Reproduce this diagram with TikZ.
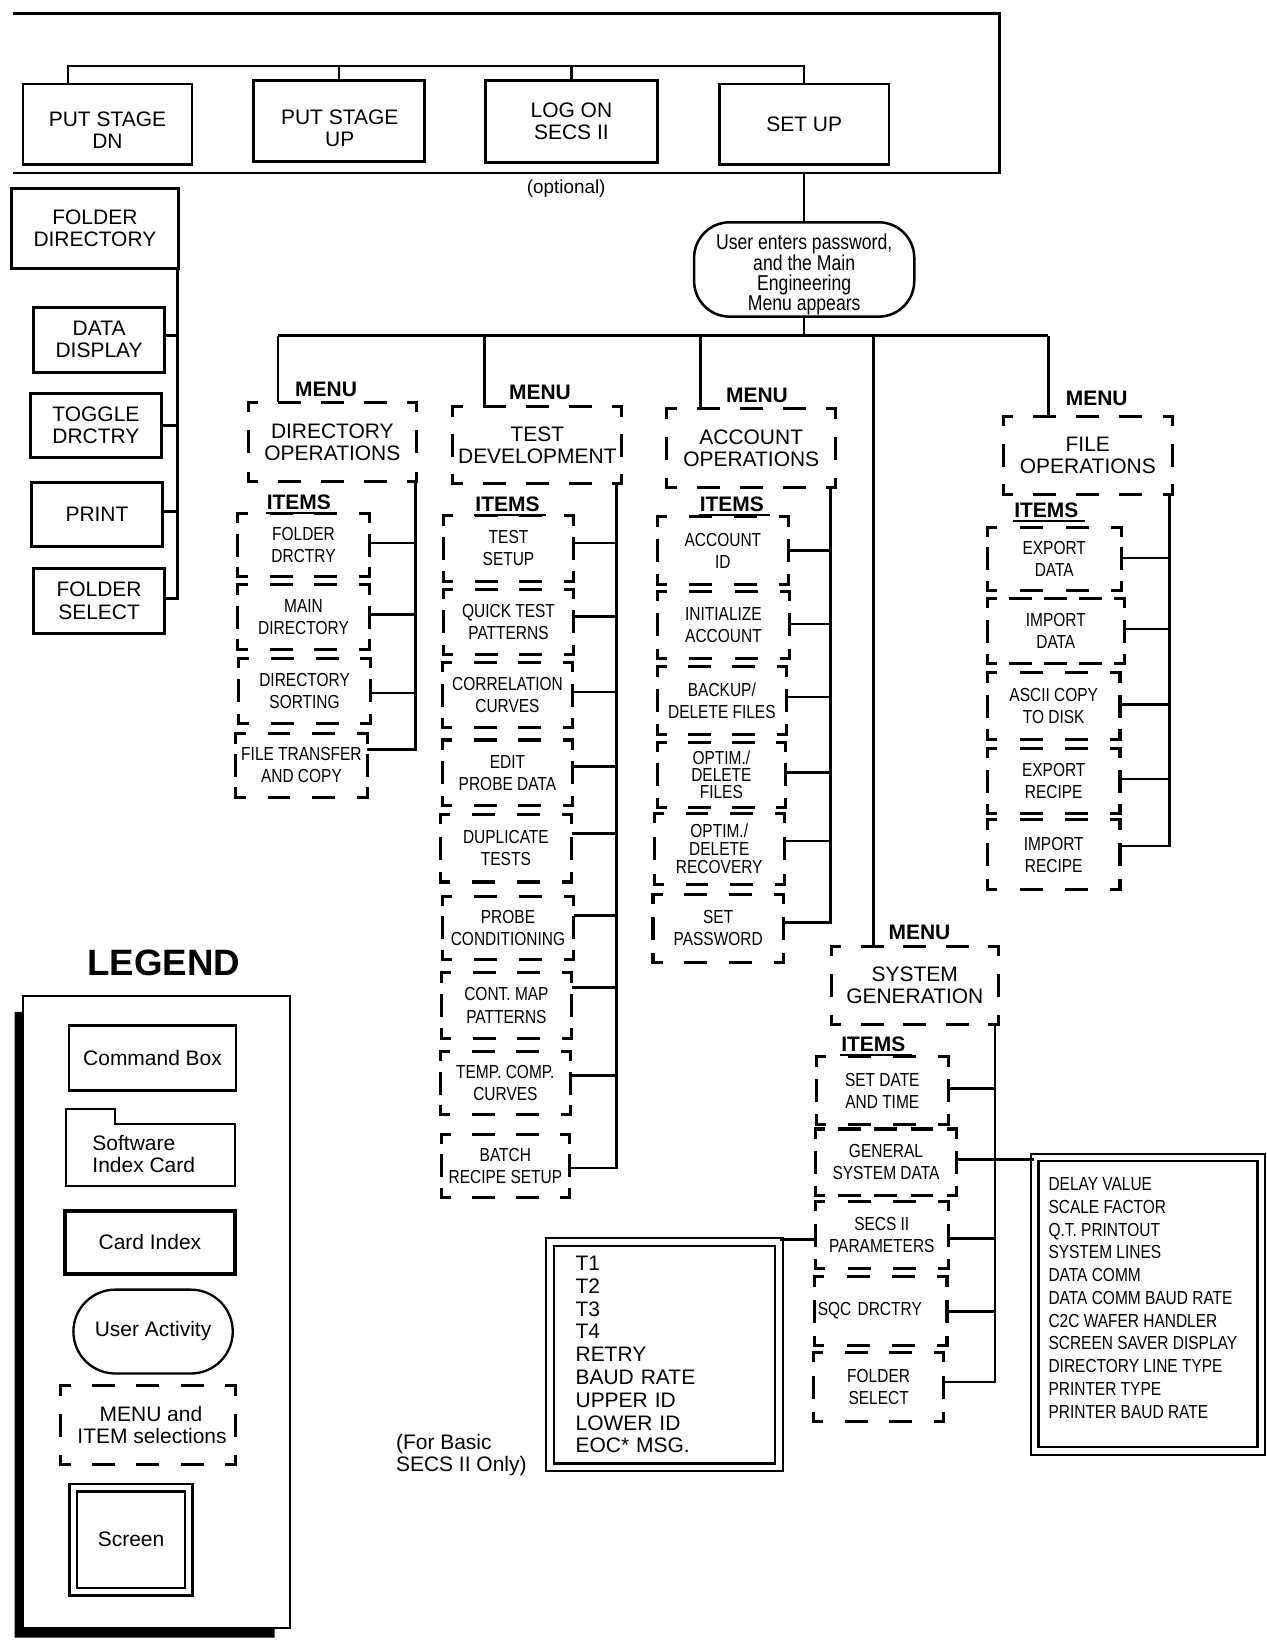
\documentclass[tikz,border=0pt]{standalone}
\usepackage{fontspec}
\setmainfont{Liberation Sans}
\newfontfamily\condf[FakeStretch=0.82]{Liberation Sans}
\usetikzlibrary{calc}

% ---------- dashed frames with L-shaped corners ----------
\def\dsc{8}   % corner arm
\def\dsd{19}  % dash length
\def\dsg{19}  % nominal gap
\newcommand\dside[4]{%
  \pgfmathsetmacro\dsL{veclen((#3)-(#1),(#4)-(#2))}%
  \pgfmathsetmacro\dsN{max(0,round((\dsL-2*\dsc-\dsg)/(\dsd+\dsg)))}%
  \pgfmathsetmacro\dsG{(\dsL-2*\dsc-\dsN*\dsd)/(\dsN+1)}%
  \pgfmathsetmacro\dsP{\dsd-\dsc}%
  \begin{pgfscope}%
  \pgfsetdash{{\dsd pt}{\dsG pt}}{\dsP pt}%
  \pgfpathmoveto{\pgfpoint{#1pt}{#2pt}}%
  \pgfpathlineto{\pgfpoint{#3pt}{#4pt}}%
  \pgfusepath{stroke}%
  \end{pgfscope}}
\newcommand\dframe[1]{%
  \pgfpointanchor{#1}{north west}\pgfgetlastxy{\dfxa}{\dfya}%
  \pgfpointanchor{#1}{south east}\pgfgetlastxy{\dfxb}{\dfyb}%
  \pgfmathsetmacro\dfXa{\dfxa}\pgfmathsetmacro\dfYa{\dfya}%
  \pgfmathsetmacro\dfXb{\dfxb}\pgfmathsetmacro\dfYb{\dfyb}%
  \begin{pgfscope}%
  \pgfsetlinewidth{2.9pt}\pgfsetrectcap
  \dside{\dfXa}{\dfYa}{\dfXb}{\dfYa}%
  \dside{\dfXb}{\dfYa}{\dfXb}{\dfYb}%
  \dside{\dfXb}{\dfYb}{\dfXa}{\dfYb}%
  \dside{\dfXa}{\dfYb}{\dfXa}{\dfYa}%
  \end{pgfscope}}

\tikzset{
  conn/.style={line width=2.4pt},
  cmdbox/.style={draw, line width=2.6pt, inner sep=0pt, align=center,
    font=\fontsize{20}{21}\selectfont},
  menutxt/.style={inner sep=0pt, align=center, font=\fontsize{20}{21}\selectfont},
  itemtxt/.style={inner sep=0pt, align=center, font=\condf\fontsize{18}{21}\selectfont},
  menulbl/.style={inner sep=0pt, font=\bfseries\fontsize{20}{22}\selectfont},
  itemslbl/.style={inner sep=1pt, font=\bfseries\fontsize{20}{22}\selectfont},
  screenbox/.style={draw, double, line width=2.2pt, double distance=5pt, inner sep=0pt},
  legtxt/.style={inner sep=0pt, align=center, font=\fontsize{20}{21}\selectfont},
}

% item: name, cx, cy, width, height, text
\newcommand\ditem[6]{%
  \node[itemtxt, minimum width=#4, minimum height=#5] (#1) at (#2,#3) {#6};
  \dframe{#1}}
% menu: name, cx, cy, width, height, text
\newcommand\dmenu[6]{%
  \node[menutxt, minimum width=#4, minimum height=#5] (#1) at (#2,#3) {#6};
  \dframe{#1}}
% branch tick from an item to its trunk
\newcommand\tick[3]{%
  \coordinate (#2tk) at ([yshift=#3pt]#2.east);
  \draw[conn] (#2tk) -- (#2tk -| #1);}
% ITEMS heading with underline
\newcommand\itemshead[3]{%
  \node[itemslbl] (#1) at (#2,#3) {ITEMS};
  \draw[line width=2pt] ([yshift=-2pt]#1.south west) -- ([xshift=5pt,yshift=-2pt]#1.south east);}

\begin{document}
\begin{tikzpicture}[x=1pt,y=-1pt]
\useasboundingbox (0,0) rectangle (1208,1568);

% ---------- command row ----------
\node[cmdbox, minimum width=161, minimum height=77] (psdn) at (102.5,118.5) {};
\node[menutxt] (psdnt) at (102.5,124) {PUT STAGE\\DN};
\node[cmdbox, minimum width=163, minimum height=77] (psup) at (323.5,115.5) {};
\node[menutxt] (psupt) at (324,122) {PUT STAGE\\UP};
\node[cmdbox, minimum width=164, minimum height=78] (logon) at (545,116) {LOG ON\\SECS II};
\node[cmdbox, minimum width=162, minimum height=77] (setup) at (767,118.5) {SET UP};
\coordinate (barL) at (65,63);
\draw[conn] (barL |- psdn.north) -- (barL) -- (barL -| setup.north) -- (setup.north);
\draw[conn] (psup.north) -- (psup.north |- barL);
\draw[conn] (logon.north) -- (logon.north |- barL);
\coordinate (frameTL) at (12,13);
\coordinate (frameTR) at (953,13);
\coordinate (frameBL) at (12,165);
\draw[line width=2.6pt] (frameTL) -- (frameTR) |- (frameBL);
\node[inner sep=0pt, font=\fontsize{18}{20}\selectfont] (opt) at (540,180) {(optional)};

% ---------- password activity ----------
\node[draw, line width=2.4pt, rounded corners=34pt, minimum width=210, minimum height=90,
  inner sep=0pt] (user) at (767,257) {};
\node[inner sep=0pt, align=center, font=\condf\fontsize{20.5}{19}\selectfont] (usert) at (767,262)
  {User enters password,\\and the Main\\Engineering\\Menu appears};
\draw[conn] (setup.south |- frameBL) -- (user.north);

\coordinate (v1) at (265,320);
\coordinate (v2) at (462,320);
\coordinate (v3) at (668,320);
\coordinate (v4) at (833,320);
\coordinate (v5) at (1000,320);
\draw[conn] (user.south) -- (user.south |- v1);
\draw[conn] (v1) -- (v5);

% ---------- folder directory column ----------
\node[cmdbox, minimum width=159, minimum height=76] (fd) at (90.5,218) {FOLDER\\DIRECTORY};
\node[cmdbox, minimum width=125, minimum height=62] (dd) at (94.5,324) {DATA\\DISPLAY};
\node[cmdbox, minimum width=125, minimum height=61] (tg) at (91.5,405.5) {TOGGLE\\DRCTRY};
\node[cmdbox, minimum width=125, minimum height=61] (pr) at (92.5,490.5) {PRINT};
\node[cmdbox, minimum width=125, minimum height=62] (fs) at (94.5,573) {FOLDER\\SELECT};
\coordinate (fdT) at ([xshift=-2pt]fd.south east);
\tick{fdT}{dd}{4}
\tick{fdT}{tg}{-0.5}
\tick{fdT}{pr}{2.5}
\tick{fdT}{fs}{2}
\draw[conn] (fdT) |- (fstk);

% ---------- directory operations ----------
\node[menulbl] (m1) at (311,371) {MENU};
\dmenu{dom}{317}{421.5}{160}{75}{DIRECTORY\\OPERATIONS}
\draw[conn] (v1) -- (v1 |- dom.north);
\itemshead{i1}{285}{479}
\ditem{d1}{289.5}{520}{125}{60}{FOLDER\\DRCTRY}
\ditem{d2}{289.5}{588.5}{125}{61}{MAIN\\DIRECTORY}
\ditem{d3}{290.5}{659}{125}{62}{DIRECTORY\\SORTING}
\ditem{d4}{287.5}{730}{125}{60}{FILE TRANSFER\\AND COPY}
\coordinate (domT) at ([xshift=-1pt]dom.south east);
\tick{domT}{d1}{2}
\tick{domT}{d2}{2.5}
\tick{domT}{d3}{-2}
\tick{domT}{d4}{15}
\draw[conn] (domT) |- (d4tk);

% ---------- test development ----------
\node[menulbl] (m2) at (515,374) {MENU};
\dmenu{tdm}{512.5}{424.5}{161}{73}{TEST\\DEVELOPMENT}
\draw[conn] (v2) -- (v2 |- tdm.north);
\itemshead{i2}{484}{481}
\ditem{t1}{485}{523}{124}{62}{TEST\\SETUP}
\ditem{t2}{485}{593}{124}{62}{QUICK TEST\\PATTERNS}
\ditem{t3}{484}{663}{124}{62}{CORRELATION\\CURVES}
\ditem{t4}{484}{737}{124}{62}{EDIT\\PROBE DATA}
\ditem{t5}{482.5}{809}{125}{64}{DUPLICATE\\TESTS}
\ditem{t6}{484.5}{885}{125}{60}{PROBE\\CONDITIONING}
\ditem{t7}{483}{959}{124}{62}{CONT. MAP\\PATTERNS}
\ditem{t8}{482}{1033}{124}{60}{TEMP. COMP.\\CURVES}
\ditem{t9}{482}{1112}{122}{60}{BATCH\\RECIPE SETUP}
\coordinate (tdmT) at ([xshift=-5pt]tdm.south east);
\tick{tdmT}{t1}{5}
\tick{tdmT}{t2}{5}
\tick{tdmT}{t3}{3}
\tick{tdmT}{t4}{6}
\tick{tdmT}{t5}{14}
\tick{tdmT}{t6}{12}
\tick{tdmT}{t7}{17}
\tick{tdmT}{t8}{7}
\tick{tdmT}{t9}{-2}
\draw[conn] (tdmT) |- (t9tk);

% ---------- account operations ----------
\node[menulbl] (m3) at (722,377) {MENU};
\dmenu{aom}{716.5}{427.5}{161}{75}{ACCOUNT\\OPERATIONS}
\draw[conn] (v3) -- (v3 |- aom.north);
\itemshead{i3}{698}{481}
\ditem{a1}{689.5}{525}{125}{64}{ACCOUNT\\ID}
\ditem{a2}{690}{596}{126}{64}{INITIALIZE\\ACCOUNT}
\ditem{a3}{688.5}{668}{123}{64}{BACKUP/\\DELETE FILES}
\node[itemtxt, font=\condf\fontsize{18}{16.5}\selectfont, minimum width=122, minimum height=62] (a4) at (688,739) {OPTIM./\\DELETE\\FILES};
\dframe{a4}
\node[itemtxt, font=\condf\fontsize{18}{17}\selectfont, minimum width=124, minimum height=67] (a5) at (686,809.5) {OPTIM./\\DELETE\\RECOVERY};
\dframe{a5}
\ditem{a6}{685}{885.5}{124}{65}{SET\\PASSWORD}
\coordinate (aomT) at ([xshift=-5pt]aom.south east);
\tick{aomT}{a1}{0}
\tick{aomT}{a2}{1}
\tick{aomT}{a3}{3}
\tick{aomT}{a4}{2}
\tick{aomT}{a5}{7.5}
\tick{aomT}{a6}{5.5}
\draw[conn] (aomT) |- (a6tk);

% ---------- file operations ----------
\node[menulbl] (m5) at (1046,380) {MENU};
\dmenu{fom}{1037.5}{434}{161}{74}{FILE\\OPERATIONS}
\draw[conn] (v5) -- (v5 |- fom.north);
\itemshead{i5}{998}{487}
\ditem{f1}{1005.5}{533}{127}{60}{EXPORT\\DATA}
\ditem{f2}{1007}{602}{130}{62}{IMPORT\\DATA}
\ditem{f3}{1005}{673.5}{126}{63}{ASCII COPY\\TO DISK}
\ditem{f4}{1005}{745}{126}{62}{EXPORT\\RECIPE}
\ditem{f5}{1005}{815}{126}{66}{IMPORT\\RECIPE}
\coordinate (fomT) at ([xshift=-3pt]fom.south east);
\tick{fomT}{f1}{1}
\tick{fomT}{f2}{2}
\tick{fomT}{f3}{1.5}
\tick{fomT}{f4}{2}
\tick{fomT}{f5}{8}
\draw[conn] (fomT) |- (f5tk);

% ---------- system generation ----------
\node[menulbl] (m4) at (877,889) {MENU};
\dmenu{sgm}{872.5}{940}{159}{74}{SYSTEM\\GENERATION}
\draw[conn] (v4) -- (v4 |- sgm.north);
\itemshead{i4}{833}{996}
\ditem{s1}{841.5}{1040}{125}{64}{SET DATE\\AND TIME}
\ditem{s2}{845}{1108.5}{134}{63}{GENERAL\\SYSTEM DATA}
\ditem{s3}{841}{1178}{126}{64}{SECS II\\PARAMETERS}
\node[itemtxt, align=left, text width=120, inner xsep=3pt, minimum height=65] (s4) at (840,1250.5) {SQC DRCTRY};
\dframe{s4}
\ditem{s5}{838}{1323}{124}{66}{FOLDER\\SELECT}
\coordinate (sgmT) at ([xshift=-3pt]sgm.south east);
\tick{sgmT}{s1}{2}
\tick{sgmT}{s3}{-3}
\tick{sgmT}{s4}{-0.5}
\tick{sgmT}{s5}{5}
\draw[conn] (sgmT) |- (s5tk);

% general system data screen
\node[screenbox, minimum width=216, minimum height=280] (gsd) at (1095,1244) {};
\node[inner sep=0pt, align=left, font=\condf\fontsize{18}{21.7}\selectfont] (gsdt) at (1090,1238)
  {DELAY VALUE\\SCALE FACTOR\\Q.T. PRINTOUT\\SYSTEM LINES\\DATA COMM\\DATA COMM BAUD RATE\\C2C WAFER HANDLER\\SCREEN SAVER DISPLAY\\DIRECTORY LINE TYPE\\PRINTER TYPE\\PRINTER BAUD RATE};
\coordinate (s2tk) at ([yshift=2.5pt]s2.east);
\draw[conn] (s2tk) -- (s2tk -| gsd.west);

% SECS II parameter screen
\node[screenbox, minimum height=215, text width=169.5, inner xsep=24.5pt, align=left,
  font=\fontsize{20}{21.75}\selectfont] (t1s) at (633.75,1292)
  {T1\\T2\\T3\\T4\\RETRY\\BAUD RATE\\UPPER ID\\LOWER ID\\EOC* MSG.};
\coordinate (s3lk) at ([yshift=-4pt]s3.west);
\draw[conn] (s3lk) -- (s3lk -| t1s.east);
\node[inner sep=0pt, align=left, font=\fontsize{20}{21}\selectfont] (basic) at (440,1388)
  {(For Basic\\SECS II Only)};

% ---------- legend ----------
\node[inner sep=0pt, font=\bfseries\fontsize{35}{38}\selectfont] (lgt) at (156,918) {LEGEND};
\node[draw, line width=1.8pt, minimum width=255, minimum height=603, inner sep=0pt] (lgbox) at (149.5,1251.5) {};
\fill (14,965) -- (22,965) -- (22,1553) -- (262,1553) -- (262,1562) -- (14,1562) -- cycle;
\node[legtxt, draw, line width=2.2pt, minimum width=159, minimum height=62] (lcmd) at (145.5,1009) {Command Box};
\draw[line width=2pt] (63,1131) -- (63,1058) -- (110,1058) -- (110,1072) -- (224,1072) -- (224,1131) -- cycle;
\node[legtxt, anchor=west, align=left] (lsic) at (88,1100.5) {Software\\Index Card};
\node[legtxt, draw, line width=4pt, minimum width=162, minimum height=60] (lci) at (143,1185) {Card Index};
\node[legtxt, draw, line width=2.2pt, rounded corners=40pt, minimum width=152, minimum height=80] (lua) at (146,1270) {User Activity};
\node[legtxt, minimum width=166, minimum height=75] (lmi) at (141,1359.5) {\hspace*{6pt}MENU and\\\hspace*{8pt}ITEM selections};
\dframe{lmi}
\node[legtxt, screenbox, minimum width=110, minimum height=99] (lsc) at (125,1468.5) {Screen};
\end{tikzpicture}
\end{document}
